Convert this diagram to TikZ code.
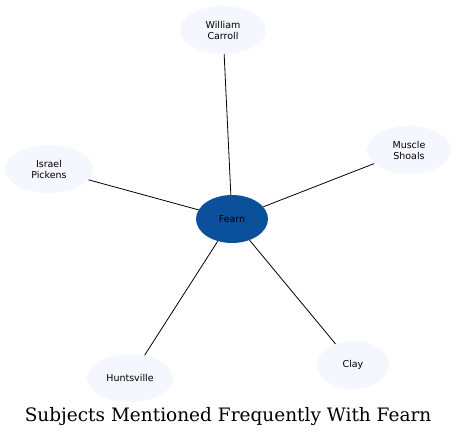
\documentclass[tikz,border=0pt]{standalone}
\usepackage{fontspec}
\usepackage{tikz}
\usetikzlibrary{shapes.geometric, positioning}
\newfontfamily\nodefont{DejaVu Sans}
\newfontfamily\titlefont{DejaVu Serif}
\definecolor{hubblue}{RGB}{11,80,155}
\definecolor{leaffill}{RGB}{244,248,254}

\begin{document}
\begin{tikzpicture}[x=1pt, y=-1pt,
    every node/.style={ellipse, inner sep=0pt, minimum height=48pt, align=center, font=\nodefont\fontsize{9.5}{11}\selectfont},
    hub/.style={fill=hubblue, minimum width=72pt},
    leaf/.style={fill=leaffill}]
    \useasboundingbox (0,0) rectangle (457,439);
    \node[hub] (fearn) at (232,219) {Fearn};
    \node[leaf, minimum width=86pt] (carroll) at (223,30) {William\\Carroll};
    \node[leaf, minimum width=88pt] (pickens) at (49,169) {Israel\\Pickens};
    \node[leaf, minimum width=84pt] (shoals) at (409,150) {Muscle\\Shoals};
    \node[leaf, minimum width=86pt] (huntsville) at (130,378) {Huntsville};
    \node[leaf, minimum width=72pt] (clay) at (353,365) {Clay};
    \draw[line width=0.8pt] (fearn) -- (carroll);
    \draw[line width=0.8pt] (fearn) -- (pickens);
    \draw[line width=0.8pt] (fearn) -- (shoals);
    \draw[line width=0.8pt] (fearn) -- (huntsville);
    \draw[line width=0.8pt] (fearn) -- (clay);
    \node[draw=none, fill=none, rectangle, minimum height=0pt, font=\titlefont\fontsize{18.5}{20}\selectfont] (title) at (228,417) {Subjects Mentioned Frequently With Fearn};
  \end{tikzpicture}
\end{document}
